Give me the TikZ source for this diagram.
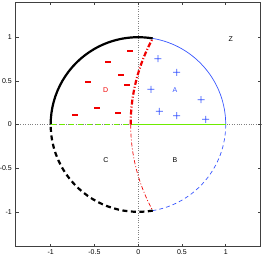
\documentclass[tikz,border=0pt]{standalone}
\usepackage{fontspec}
\setmainfont{Liberation Sans}
\definecolor{plotblue}{RGB}{55,85,255}
\definecolor{plotgreen}{RGB}{110,235,0}
\definecolor{plotred}{RGB}{240,0,0}
\begin{document}
\begin{tikzpicture}[x=87.5pt, y=87.3pt,
    lbl/.style={font=\fontsize{7}{8}\selectfont, inner sep=1pt},
    plusmark/.style={fill=plotblue},
    minusmark/.style={fill=plotred}]
    \useasboundingbox (-1.579,-1.518) rectangle (1.426,1.426);

    % Achsen und Rahmen
    \draw[gray, dotted] (-1.4,0) -- (1.4,0);
    \draw[gray, dotted] (0,-1.4) -- (0,1.4);
    \foreach \v in {-1,-0.5,0,0.5,1} {
        \draw[black!75, line width=0.5pt] (\v,-1.4) -- ++(0,0.035) (\v,1.4) -- ++(0,-0.035)
            (-1.4,\v) -- ++(0.035,0) (1.4,\v) -- ++(-0.035,0);
        \node[lbl, anchor=north] at (\v,-1.415) {\v};
        \node[lbl, anchor=east] at (-1.43,\v) {\v};
    }
    \draw[black!75, line width=0.8pt] (-1.4,-1.4) rectangle (1.4,1.4);

    % Grenzpunkte
    \coordinate (top) at (80.4:1);
    \coordinate (bot) at (-80.4:1);
    \coordinate (mid) at (-0.086,0);

    % Einheitskreis
    \draw[line width=2.2pt] (180:1) arc[start angle=180, end angle=80.4, radius=1];
    \draw[plotblue, line width=0.7pt] (top) arc[start angle=80.4, end angle=0, radius=1];
    \draw[plotblue, line width=0.7pt, dash pattern=on 4pt off 3pt] (0:1) arc[start angle=0, end angle=-80.4, radius=1];
    \draw[line width=2.2pt, dash pattern=on 5pt off 3.5pt] (bot) arc[start angle=-80.4, end angle=-180, radius=1];

    % Durchmesser
    \draw[plotgreen, line width=1.4pt] (mid) -- (1,0);
    \draw[plotgreen, line width=1.4pt, dash pattern=on 5pt off 4pt] (-1,0) -- (mid);

    % Trennkurve
    \draw[plotred, line width=2.2pt, dash pattern=on 5pt off 2pt on 1pt off 2pt] (mid) arc[start angle=180, end angle=151.3, radius=2.055];
    \draw[plotred, line width=0.7pt, dash pattern=on 4pt off 2pt on 1pt off 2pt] (mid) arc[start angle=180, end angle=208.7, radius=2.055];

    % Punkte
    \foreach \x/\y in {-0.094/0.842, -0.342/0.72, -0.197/0.563, -0.57/0.483,
        -0.125/0.449, -0.474/0.193, -0.722/0.112, -0.234/0.128}
        \fill[minusmark] (\x,\y) ++(-0.035,-0.011) rectangle ++(0.07,0.022);
    \foreach \x/\y in {0.226/0.754, 0.44/0.598, 0.146/0.403, 0.718/0.284,
        0.241/0.151, 0.44/0.101, 0.771/0.06}
        \fill[plusmark] (\x,\y) ++(-0.04,-0.0045) rectangle ++(0.08,0.009)
            (\x,\y) ++(-0.0045,-0.04) rectangle ++(0.009,0.08);

    % Bereiche
    \node[lbl, text=plotred] (regD) at (-0.371,0.399) {D};
    \node[lbl, text=plotblue] (regA) at (0.42,0.4) {A};
    \node[lbl] (regC) at (-0.37,-0.407) {C};
    \node[lbl] (regB) at (0.42,-0.407) {B};
    \node[lbl] (regZ) at (1.057,0.98) {Z};

\end{tikzpicture}
\end{document}
